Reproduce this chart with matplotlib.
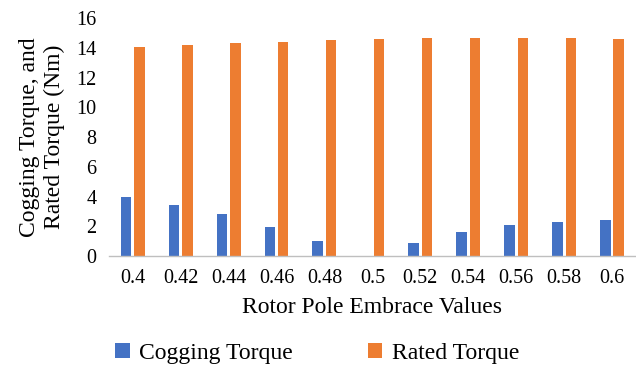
import numpy as np
import matplotlib.pyplot as plt

plt.rcParams['font.family'] = ['Liberation Serif', 'DejaVu Serif']

embrace = ["0.4", "0.42", "0.44", "0.46", "0.48", "0.5",
           "0.52", "0.54", "0.56", "0.58", "0.6"]
cogging = [3.95, 3.45, 2.8, 1.95, 0.99, 0.0, 0.86, 1.6, 2.06, 2.32, 2.4]
rated = [14.05, 14.2, 14.32, 14.4, 14.52, 14.59, 14.63, 14.66, 14.66, 14.66, 14.61]

blue = "#4472C4"
orange = "#ED7D31"

fig = plt.figure(figsize=(6.36, 3.68), dpi=100)
ax = fig.add_axes([0.171, 0.304, 0.829, 0.647])

x = np.arange(len(embrace))
w = 0.22
gap = 0.03
ax.bar(x - w / 2 - gap, cogging, width=w, color=blue, label="Cogging Torque")
ax.bar(x + w / 2 + gap, rated, width=w, color=orange, label="Rated Torque")

ax.set_xlim(-0.5, len(embrace) - 0.5)
ax.set_ylim(0, 16)
ax.set_yticks(range(0, 17, 2))
ax.set_xticks(x)
ax.set_xticklabels(embrace)
ax.tick_params(axis='both', length=0, labelsize=14.5, colors='black')
ax.tick_params(axis='y', pad=9)
ax.tick_params(axis='x', pad=9)

for side in ["top", "right", "left"]:
    ax.spines[side].set_visible(False)
ax.spines["bottom"].set_color("#BFBFBF")
ax.spines["bottom"].set_linewidth(1.0)

ax.set_xlabel("Rotor Pole Embrace Values", fontsize=17, labelpad=7)
ax.set_ylabel("Cogging Torque, and\nRated Torque (Nm)", fontsize=17,
              labelpad=8, linespacing=1.25)

fig.legend(loc="center", bbox_to_anchor=(0.499, 1 - 353 / 368), ncol=2, frameon=False,
           fontsize=17, handlelength=0.6, handleheight=0.6, columnspacing=3.2,
           handletextpad=0.4)

fig.savefig("out.png", dpi=100)
